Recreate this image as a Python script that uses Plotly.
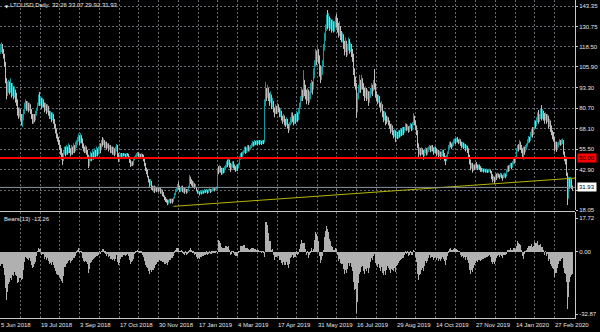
import plotly.graph_objects as go

# ---------------- data ----------------
symbol = "LTCUSD,Daily"
first_open = 115.0
# closes before the first visible bar (only used to warm up the EMA of the indicator)
warmup_close = [135, 132, 126, 118, 117, 121, 120, 116, 115, 118, 121, 122, 124, 120]

close = [
    117, 119, 116, 113, 109, 98, 90, 94,
    96, 92, 95, 90, 93, 89, 91, 88,
    84, 79, 77,
    79, 76, 73, 75, 78,
    82, 84, 81, 83, 80, 82, 79,
    76, 73, 75, 74, 77,
    80, 83, 87,
    84, 86, 82, 85, 83,
    80, 82, 79, 81, 78,
    76, 77, 74, 76, 73,
    70, 67, 64, 62, 60,
    57, 54, 52, 49, 53,
    55, 53, 56, 54, 57, 55, 53, 56, 54, 57, 55, 57,
    59, 61, 63, 60, 63, 61, 58,
    56, 55, 56, 54, 52,
    47, 49, 52,
    50, 53, 51, 54, 52, 55, 53, 55, 57, 56,
    60, 59, 61, 58, 59, 57, 58, 56, 57, 55,
    56, 54, 55, 53, 56, 57, 52,
    49, 51, 52,
    51, 52, 51.5, 52, 51, 52, 51.5, 51,
    48, 46, 47, 46, 49,
    50, 51, 52, 53, 51, 52, 51, 52, 51,
    49, 46, 43, 42, 39,
    36, 34, 35, 32, 31,
    32, 30, 31.5, 30, 31,
    30, 31, 29, 30, 28, 27,
    25, 24, 23.5, 22.5, 23, 24, 23,
    24, 23.5, 25,
    28, 30, 31, 33, 32, 30, 31, 32, 30,
    31, 29.5, 30.5, 29, 30, 32,
    37, 36, 35, 33, 34, 32, 33,
    30, 29, 29.5, 28.5, 29, 28.5, 29.5, 29, 30, 29.5, 30, 29, 30, 30.5, 29.5, 30, 30.5, 31, 30.5, 31, 31.5,
    43, 42, 44, 43, 41, 43, 42, 44, 45,
    47, 46, 48, 46, 44, 45, 47, 45,
    44, 43, 45, 44, 46,
    50, 52, 51, 53, 54,
    56, 54, 55, 57, 55, 56, 57,
    58, 59, 58, 60, 59, 60, 59, 60,
    59.5, 60, 59, 60.5, 60,
    83, 91, 89, 92, 88,
    86, 88, 83, 85,
    80, 78, 81, 79, 82, 80, 77, 78,
    75, 73, 75, 72, 71, 73, 70, 68, 71, 73,
    76, 74, 72, 75, 73, 76, 74, 77,
    82, 86, 90, 88, 94, 92, 89,
    87, 90, 86, 88, 92, 95, 93, 100,
    108, 114, 110, 116, 112,
    104, 100, 103, 108,
    118, 125, 130,
    135, 132, 136, 131, 134,
    130, 133, 129, 132, 135, 133, 130,
    127, 130, 126, 123, 125,
    120, 117, 121, 115, 118,
    121, 117, 119, 115, 113,
    104, 98, 95,
    80, 88, 92,
    96, 93, 98, 95, 91,
    89, 92, 88, 90, 86, 89, 91, 94, 92,
    97, 94, 90,
    88, 85, 87, 83, 80, 82, 78, 75, 77, 74,
    73, 74, 72,
    70, 67, 69, 66, 64, 66, 63,
    65, 63, 66, 64, 67, 65, 68, 66,
    68, 70, 68, 69, 67, 69, 70, 68, 71,
    74, 72, 70,
    66, 58, 54,
    55, 53, 55, 54, 52, 54, 55, 53, 55,
    56, 57, 55, 57, 56, 54, 56, 55,
    53, 54, 52, 53, 51, 52, 54,
    52, 50, 49, 51, 53,
    57, 59, 58, 57, 59,
    60, 61, 60, 62, 61, 60, 61, 59,
    58, 59, 57, 58, 56, 57, 55, 52,
    48, 45, 46, 43,
    45, 44, 46, 45, 44, 45, 44, 43,
    42.5, 43, 42, 42.5, 42, 42.5, 41.5, 42, 42.5, 41.5,
    39, 37, 38, 36, 39,
    38, 40, 39, 38.5, 40, 39, 38, 39.5, 40, 39,
    42, 44, 43, 45, 46,
    45, 47, 49, 48, 50,
    55, 57, 56, 59, 57,
    55, 53, 56, 54, 56,
    58, 60, 62, 61, 64, 66, 65,
    68, 71, 70, 73, 75, 73,
    76, 78, 75, 78, 76,
    74, 76, 73, 75, 70, 72, 69,
    66, 64, 62,
    57, 59, 56, 58,
    59, 60, 59.5, 60, 61,
    53, 50, 49, 40, 27, 36, 34, 36, 32.26, 31.93,
]

high = [
    120, 121, 120, 117, 114, 109, 99, 97,
    98, 97, 99, 96, 96, 94, 94, 92,
    90, 86, 81,
    81, 80, 77, 77, 80,
    84, 86, 85, 85, 84, 84, 83,
    80, 77, 77, 77, 79,
    81, 84, 89,
    90.5, 88, 87, 87, 86,
    84, 84, 83, 83, 82,
    79, 79, 78, 78, 77,
    74, 71, 68, 65, 63,
    61, 58, 56, 53, 55,
    57, 57, 58, 57, 59, 58, 56, 58, 57, 59, 58, 60,
    61, 63, 65, 64, 65.3, 64, 62,
    59, 57, 58, 57, 55,
    52, 51, 54,
    53, 55, 54, 56, 55, 57, 56, 57, 59, 59,
    61, 62.9, 62, 61, 60, 60, 59, 59, 58, 58,
    57, 57, 57, 56, 57, 58.6, 58,
    53, 52, 53,
    53, 53, 53, 53, 52.5, 53, 53, 52.5,
    51, 49, 48, 48, 50,
    51, 52, 53, 53.7, 53.5, 53, 52.5, 53, 52.5,
    52, 50, 47, 44, 43,
    39, 37, 37, 36, 33,
    33, 33, 32.5, 32, 32.5,
    32, 32, 31.5, 31, 30.5, 29,
    27, 26, 25, 24.5, 24.5, 25, 25,
    25, 25, 26,
    28.5, 31, 32, 34, 35.2, 33, 32, 33, 33,
    32, 31.5, 31.5, 31, 31, 33,
    39.5, 38.5, 37, 36, 35.5, 34.5, 34,
    32, 30.5, 30, 29.5, 30, 29.5, 30.5, 30, 31, 30.5, 31, 30.5, 31, 31.5, 31, 31, 31.5, 32, 31.5, 32, 32.5,
    44, 45, 45.7, 45, 44, 44, 44, 45, 46,
    48, 49, 49.4, 49, 47, 46.5, 48, 48,
    46, 45, 46, 46, 47,
    51, 53, 53.5, 54, 55,
    57, 57, 56.5, 58, 58, 57, 58,
    59, 60.5, 60, 61, 60.5, 61, 60.5, 61,
    61, 61, 60.5, 61, 61,
    86, 96.6, 93, 95, 93,
    90, 91, 89, 87,
    85, 81, 83, 82, 84, 83, 81, 80,
    79, 76, 77, 76, 74, 75, 74, 71, 72, 75,
    78, 78, 76, 77, 77, 79, 78, 80.7,
    84, 88, 93, 92, 104, 98, 95,
    92, 93, 92, 91, 96, 98, 97, 105,
    110, 117, 116, 118, 117,
    113, 107, 106, 110,
    120, 127, 132,
    138, 140.9, 139, 137, 136,
    135, 135, 134, 134, 137, 138.4, 136,
    133, 134, 131, 128, 127,
    126, 122, 124, 122, 120,
    124, 123, 121, 120, 117,
    114, 105, 100,
    96, 90, 95,
    101, 98, 101, 99, 96,
    93, 94, 93, 92, 91, 91, 93, 96, 95,
    98, 104.6, 96,
    91, 89, 89, 88, 84, 85, 83, 79, 79, 78,
    76, 75.5, 75,
    73, 71, 71, 70, 67, 68, 67,
    66.5, 66, 67, 67, 68, 68, 69, 69,
    69, 71.5, 71, 70.5, 69.5, 70, 71.5, 71, 72,
    77.6, 76, 73,
    70, 67, 59,
    56.5, 56, 56.7, 56, 55, 55.5, 56.5, 56, 56.5,
    57, 58, 57.5, 58, 58, 56.5, 57, 57,
    56, 55, 55, 54.5, 54, 54, 55,
    55, 53, 51, 52, 54,
    58, 60, 60, 59, 60,
    61.5, 62, 62, 62.5, 62.9, 61.5, 62, 61.5,
    60, 60, 59.5, 59, 58.5, 58, 57.5, 56,
    52, 49, 47, 47,
    46, 46, 47, 47.5, 46, 46, 46, 45,
    44, 43.8, 43.5, 43.5, 43, 43.5, 43, 43, 43.5, 43,
    42, 40, 39, 38.5, 40,
    40.5, 41, 40.5, 40, 41, 40.5, 39.5, 40.5, 41, 40.5,
    43, 45, 45.5, 46, 47,
    47, 48, 50, 50.5, 51,
    56, 58, 58.5, 61, 60,
    58, 56, 57, 57, 58,
    59, 61.5, 63.5, 63, 66, 68, 69,
    69, 73, 73, 75, 78, 79.5,
    77, 80, 82.5, 80, 79,
    77.6, 78, 77, 77, 76, 74, 73,
    70, 67, 66,
    62.9, 60, 60, 59.5,
    60, 61.5, 61, 61.5, 62,
    61, 54, 51, 49.5, 41, 38.5, 38, 38.3, 37, 33.07,
]

low = [
    114, 115, 114, 111, 106, 96, 86, 88,
    90, 89, 90, 87, 88, 86, 87, 84,
    82, 76, 74,
    75, 73, 70, 69, 73,
    77, 80, 79, 79, 78, 79, 77,
    74, 71, 71, 72, 73,
    76, 79, 82,
    82, 83, 80, 81, 81,
    78, 79, 77, 78, 76,
    74, 74, 72, 73, 71,
    68, 65, 62, 60, 58,
    55, 52, 49, 45.7, 48,
    52, 51, 52, 52, 53, 53, 51, 52, 52, 53, 53, 54,
    56, 58, 60, 58, 59, 59, 56,
    54, 53, 53, 52, 50,
    43.8, 45, 48,
    48, 49, 49, 50, 50, 51, 51, 52, 54, 53,
    55, 57, 58, 56, 56, 55, 56, 54, 55, 53,
    53, 52, 52, 51, 52, 54, 50,
    47.5, 48, 50,
    50.5, 50.5, 51, 51, 50.5, 50.5, 51, 50,
    47, 44.5, 45, 45, 45.5,
    48.5, 49.5, 50.5, 51, 50.5, 50.5, 50, 50.5, 49.5,
    48, 45, 42, 40, 38,
    35, 32, 33, 30.5, 30,
    29, 28.5, 29.5, 29, 29.5,
    29, 29.5, 28, 28, 26.5, 26,
    24, 23, 22.5, 21, 21.5, 22.5, 22,
    22.5, 22, 23,
    25, 27, 29, 30, 30.5, 29, 29, 30, 29,
    28.5, 28, 29, 28, 28.5, 29.5,
    32, 34, 33, 32, 32, 31, 31.5,
    29.5, 28, 28, 27, 28, 27.5, 28, 28, 28.5, 28.5, 29, 28, 28.5, 29.5, 28.5, 29, 29.5, 30, 29.5, 30, 30.5,
    31, 40, 41, 41, 39.5, 40, 40.5, 41, 43,
    44, 44.5, 45.5, 44, 41.4, 42.5, 44, 43.5,
    42.5, 41.5, 42, 42, 43.5,
    45.5, 49, 50, 50.5, 52,
    53, 52.5, 53, 54, 54, 54, 55,
    56, 57, 57, 57.5, 58, 58, 58, 58.5,
    58, 58.5, 58, 58.5, 58.5,
    59.5, 82, 85, 87, 85,
    82, 84, 80, 81,
    78, 75, 77, 77, 78, 78, 75, 75,
    73, 71, 72, 70, 69, 70, 68, 65.3, 67, 70,
    71, 72, 70, 71, 71, 73, 72, 73,
    77, 81, 85, 85, 87, 88, 86,
    83, 85, 82.5, 84, 86, 90, 89, 92,
    99, 106, 107, 109, 108,
    100, 96, 98, 101,
    106, 116, 122,
    128, 129, 130, 128, 129,
    127, 128, 127, 127.5, 130, 130, 127,
    124, 125, 122.5, 121, 121,
    117, 113, 115, 112, 113,
    116, 114, 115, 112, 109,
    101, 94, 92,
    74.6, 78, 86,
    90, 90, 92, 92, 88,
    85, 87, 85, 86, 82, 84, 87, 89, 88,
    91, 92, 87,
    85, 83, 84, 81, 78, 79, 75, 72, 73, 70,
    71, 72, 70,
    68, 65, 66, 64, 62, 63, 59.8,
    62, 61.5, 62, 62.5, 63, 63.5, 64, 64,
    65.5, 67, 66.5, 67, 65.5, 66, 68, 66.5, 67,
    70, 70, 67,
    64, 56, 50.6,
    52, 51, 52, 52, 49, 51, 53, 51.5, 52,
    53.5, 55, 53.5, 54, 54, 52, 53, 53,
    51, 52, 50, 51, 49, 50, 51,
    50, 48, 45.7, 48, 50,
    52.5, 55.5, 56.5, 55.5, 56.5,
    57.5, 59, 58.5, 59.5, 59.5, 58.5, 59, 57.5,
    56, 56.5, 55.5, 56, 54, 55, 53, 50.6,
    46, 42.5, 43.5, 41,
    42, 42.5, 43, 43.5, 42.5, 43, 42.5, 41.5,
    41.5, 41.5, 41, 41.5, 41, 41, 40.8, 41, 41.5, 40.5,
    37, 35, 36, 34, 35.5,
    36.5, 37.5, 38, 37, 38, 37.5, 36, 37.5, 38, 37.5,
    38.5, 41, 41.5, 42, 44,
    43, 44, 46, 46.5, 47,
    49.5, 54, 54, 55, 55,
    53, 50, 49, 52, 53.5,
    55, 57, 59, 59.5, 60.5, 63, 62.5,
    64, 67.5, 68, 69.5, 72, 71,
    72, 74, 73, 74, 73,
    71, 73, 71, 72, 68, 69, 66,
    64, 61.5, 60,
    54, 55, 53.7, 55,
    56.5, 58, 57.5, 58, 58.5,
    52, 48, 46, 39, 21.1, 25, 31, 32, 31, 29.92,
]

# date labels of the time scale (bar index where each label sits)
date_labels = ["5 Jun 2018", "19 Jul 2018", "3 Sep 2018", "17 Oct 2018", "30 Nov 2018",
               "17 Jan 2019", "4 Mar 2019", "17 Apr 2019", "31 May 2019", "16 Jul 2019",
               "29 Aug 2019", "14 Oct 2019", "27 Nov 2019", "14 Jan 2020", "27 Feb 2020"]
date_bars = [0, 40, 79, 119, 158, 198, 237, 277, 317, 356, 396, 435, 475, 515, 554]
grid_bars = [20, 40, 59, 79, 99, 119, 138, 158, 178, 198, 217, 237, 257, 277, 296,
             317, 336, 356, 376, 396, 415, 435, 455, 475, 495, 515, 534, 554]

price_ticks = [143.35, 130.75, 118.50, 105.90, 93.30, 80.70, 68.10, 55.50, 42.90, 30.30, 18.05]
price_range = [18.05, 147.04]
bears_ticks = [17.72, 0.00, -32.87]
bears_range = [-34.8, 20.9]
bears_period = 13
bears_label_value = -13.26

level_price = 50.00
trend_bars = [173, 574.5]
trend_prices = [20.3, 37.65]

# ---------------- derived ----------------
n = min(len(close), len(high), len(low))
close, high, low = close[:n], high[:n], low[:n]
opens = [first_open] + close[:-1]
x = list(range(n))

alpha = 2.0 / (bears_period + 1)
ema = warmup_close[0]
for c in warmup_close[1:]:
    ema += alpha * (c - ema)
bears = []
for c, l in zip(close, low):
    ema += alpha * (c - ema)
    bears.append(l - ema)

UP = "#13999a"
DN = "#bdbdbd"
GRID = "#646a70"
AXIS = "#c8c8c8"
TXT = "#e6e6e6"
FONT = "Liberation Sans"

fig = go.Figure()
fig.add_trace(go.Ohlc(
    x=x, open=opens, high=high, low=low, close=close,
    increasing=dict(line=dict(color=UP, width=1)),
    decreasing=dict(line=dict(color=DN, width=1)),
    tickwidth=0, xaxis="x", yaxis="y", hoverinfo="skip", showlegend=False))

fig.add_trace(go.Scatter(
    x=trend_bars, y=trend_prices, mode="lines",
    line=dict(color="#b5b500", width=1), xaxis="x", yaxis="y",
    hoverinfo="skip", showlegend=False))

fig.add_trace(go.Bar(
    x=x, y=bears, width=0.6, marker=dict(color="#b0b0b0", line=dict(width=0)),
    xaxis="x2", yaxis="y2", hoverinfo="skip", showlegend=False))

H_PLOT = 318.0
main_dom = [(H_PLOT - 210) / H_PLOT, 1.0]
ind_dom = [0.0, 106 / H_PLOT]

xcommon = dict(range=[-0.5, 574.5], tickvals=grid_bars, showticklabels=False,
               showgrid=True, gridcolor=GRID, griddash="2px,2px", gridwidth=1,
               zeroline=False, ticks="", fixedrange=True)

fig.update_layout(
    width=600, height=332, autosize=False,
    margin=dict(l=0, r=25, t=0, b=14, pad=0),
    paper_bgcolor="#000000", plot_bgcolor="#000000",
    font=dict(family=FONT, size=6, color=TXT),
    bargap=0, hovermode=False,
    xaxis=dict(**xcommon, anchor="y", rangeslider=dict(visible=False), showline=False),
    xaxis2=dict(**xcommon, anchor="y2", matches="x", showline=True, linecolor=AXIS, linewidth=1),
    yaxis=dict(domain=main_dom, range=price_range, side="right",
               tickvals=price_ticks,
               ticktext=[("" if abs(v - 30.30) < 1e-9 else f"{v:.2f}") for v in price_ticks],
               showgrid=True, gridcolor=GRID, griddash="2px,2px", zeroline=False,
               showline=True, linecolor=AXIS, linewidth=1, ticks="outside", ticklen=2,
               tickcolor=AXIS, tickfont=dict(size=6, color=TXT, family=FONT), fixedrange=True),
    yaxis2=dict(domain=ind_dom, range=bears_range, side="right",
                tickvals=bears_ticks, ticktext=[f"{v:.2f}" for v in bears_ticks],
                showgrid=False, zeroline=False,
                showline=True, linecolor=AXIS, linewidth=1, ticks="outside", ticklen=2,
                tickcolor=AXIS, tickfont=dict(size=6, color=TXT, family=FONT), fixedrange=True),
)

shapes = [
    # horizontal level line
    dict(type="line", xref="x domain", x0=0, x1=1, yref="y", y0=level_price, y1=level_price,
         line=dict(color="#ff0000", width=2), layer="above"),
    # bid line at the last close
    dict(type="line", xref="x domain", x0=0, x1=1, yref="y", y0=close[-1], y1=close[-1],
         line=dict(color="#8a949e", width=1), layer="above"),
    # separator between windows
    dict(type="line", xref="paper", x0=0, x1=1, yref="paper",
         y0=(H_PLOT - 211.5) / H_PLOT, y1=(H_PLOT - 211.5) / H_PLOT,
         line=dict(color=AXIS, width=1), layer="above"),
]
fig.update_layout(shapes=shapes)

ann = []
ann.append(dict(xref="paper", yref="paper", x=2.5 / 575, y=1, yshift=-1.5, xanchor="left", yanchor="top",
                text="▼", showarrow=False, font=dict(size=4, color="#ffffff", family="DejaVu Sans")))
ann.append(dict(xref="paper", yref="paper", x=8 / 575, y=1, yshift=0, xanchor="left", yanchor="top",
                text=f"{symbol}  {opens[-1]:.2f} {high[-1]:.2f} {low[-1]:.2f} {close[-1]:.2f}",
                showarrow=False, font=dict(size=6, color=TXT, family=FONT)))
ann.append(dict(xref="paper", yref="paper", x=2 / 575, y=(H_PLOT - 214) / H_PLOT, xanchor="left", yanchor="top",
                text=f"Bears({bears_period}) {bears_label_value:.2f}",
                showarrow=False, font=dict(size=6, color=TXT, family=FONT)))
for b, t in zip(date_bars, date_labels):
    ann.append(dict(xref="x2", yref="paper", x=b, y=-0.006, xanchor="left", yanchor="top",
                    xshift=-2, text=t, showarrow=False, font=dict(size=6, color=TXT, family=FONT)))
ann.append(dict(xref="paper", yref="y", x=1, xshift=2, y=level_price, xanchor="left", yanchor="middle",
                text=f"{level_price:.2f}", showarrow=False, bgcolor="#ff0000", borderpad=1,
                font=dict(size=6, color="#000000", family=FONT)))
ann.append(dict(xref="paper", yref="y", x=1, xshift=2, y=close[-1], xanchor="left", yanchor="middle",
                text=f"{close[-1]:.2f}", showarrow=False, bgcolor="#ffffff", borderpad=1,
                font=dict(size=6, color="#000000", family=FONT)))
fig.update_layout(annotations=ann)

fig.write_html("out.html", config={"displayModeBar": False})
